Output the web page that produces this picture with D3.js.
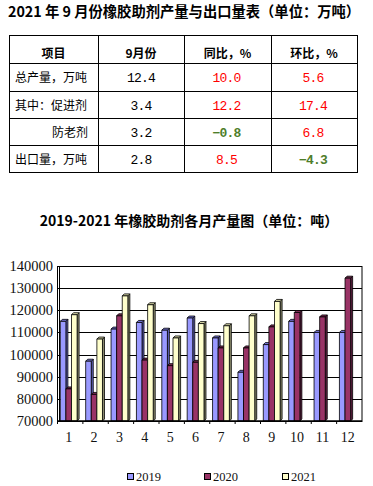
<!DOCTYPE html>
<html><head><meta charset="utf-8">
<script src="https://cdn.jsdelivr.net/npm/d3@7"></script>
<style>html,body{margin:0;padding:0;background:#fff;}svg{display:block;}</style>
</head><body>
<script>
// ---- table data ----
const tableHeader = ["项目", "9月份", "同比，%", "环比，%"];
const rowLabels = ["总产量，万吨", "其中：促进剂", "防老剂", "出口量，万吨"];
const septValues = ["12.4", "3.4", "3.2", "2.8"];
const yoyValues = [10.0, 12.2, -0.8, 8.5];
const momValues = [5.6, 17.4, 6.8, -4.3];

// ---- chart data ----
const months = ["1","2","3","4","5","6","7","8","9","10","11","12"];
const seriesNames = ["2019", "2020", "2021"];
const s2019 = [115000, 97000, 111500, 114500, 111000, 116500, 107500, 92000, 104500, 115000, 110000, 110000];
const s2020 = [84500, 82000, 117500, 97500, 95000, 96500, 103000, 103000, 112500, 119000, 117000, 134500];
const s2021 = [118000, 107000, 126500, 122500, 107500, 114000, 113000, 117500, 124000, null, null, null];
const yTicks = [70000, 80000, 90000, 100000, 110000, 120000, 130000, 140000];

const W = 373, H = 486;
const svg = d3.select("body").append("svg").attr("width", W).attr("height", H);
const cjk = "'Noto Sans CJK SC', 'Noto Sans', sans-serif";
const mono = "'Liberation Mono', 'DejaVu Sans Mono', monospace";
const serif = "'Liberation Serif', 'DejaVu Serif', serif";

// ---- table title ----
svg.append("text").attr("x", 8).attr("y", 17)
  .attr("font-family", cjk).attr("font-weight", "bold").attr("font-size", 14.3)
  .text("2021 年 9 月份橡胶助剂产量与出口量表（单位：万吨）");

// ---- table ----
const colX = [9, 98, 184, 271, 357];
const rowY = [35, 63, 91, 118, 145, 172];
const tg = svg.append("g");
colX.forEach(x => tg.append("line").attr("x1", x + 0.5).attr("x2", x + 0.5).attr("y1", rowY[0]).attr("y2", rowY[5]).attr("stroke", "#000"));
rowY.forEach(y => tg.append("line").attr("x1", colX[0]).attr("x2", colX[4] + 1).attr("y1", y + 0.5).attr("y2", y + 0.5).attr("stroke", "#000"));
const colC = d3.range(4).map(i => (colX[i] + colX[i + 1]) / 2);
tableHeader.forEach((h, i) => {
  tg.append("text").attr("x", colC[i]).attr("y", 58).attr("text-anchor", "middle")
    .attr("font-family", cjk).attr("font-weight", "bold").attr("font-size", 12).text(h);
});
const fmt = d3.format(".1f");
rowLabels.forEach((lab, r) => {
  const y = rowY[r + 1] + 19;
  tg.append("text").attr("x", r === 2 ? 52 : 15).attr("y", y)
    .attr("font-family", cjk).attr("font-size", 12).text(lab);
  tg.append("text").attr("x", colC[1]).attr("y", y).attr("text-anchor", "middle")
    .attr("font-family", mono).attr("font-size", 13).attr("letter-spacing", -0.8).text(septValues[r]);
  [[yoyValues, 2], [momValues, 3]].forEach(([arr, c]) => {
    const v = arr[r];
    tg.append("text").attr("x", colC[c] - 1).attr("y", y).attr("text-anchor", "middle")
      .attr("font-family", mono).attr("font-size", 13).attr("letter-spacing", -0.8)
      .attr("font-weight", v < 0 ? "bold" : "normal")
      .attr("fill", v < 0 ? "#4e7d2a" : "#ff0000").text(fmt(v).replace("-", "−"));
  });
});

// ---- chart title ----
svg.append("text").attr("x", 189).attr("y", 226).attr("text-anchor", "middle")
  .attr("font-family", cjk).attr("font-weight", "bold").attr("font-size", 14)
  .text("2019-2021 年橡胶助剂各月产量图（单位：吨）");

// ---- chart ----
const L = 57.5, R = 362, T = 266, B = 421;
const y = d3.scaleLinear().domain([70000, 140000]).range([B, T]);
const x = d3.scaleBand().domain(months).range([L, R]);
const xs = d3.scaleBand().domain(seriesNames).range([2.8, 2.8 + 16.8]);
const fills = ["#9999ff", "#993366", "#ffffcc"];
const sides = ["#6161b8", "#5e1f40", "#8c8c6e"];
const tops = ["#7777dd", "#7a2852", "#d9d9a8"];
const series = [s2019, s2020, s2021];

const cg = svg.append("g");
// gridlines
yTicks.forEach(t => {
  cg.append("line").attr("x1", L).attr("x2", R).attr("y1", Math.round(y(t)) + 0.5).attr("y2", Math.round(y(t)) + 0.5)
    .attr("stroke", "#000").attr("stroke-width", 1);
});
// frame
cg.append("rect").attr("x", L).attr("y", T + 0.5).attr("width", R - L).attr("height", B - T)
  .attr("fill", "none").attr("stroke", "#000");
cg.append("line").attr("x1", L + 2).attr("x2", L + 2).attr("y1", T).attr("y2", B).attr("stroke", "#000");
// y labels
yTicks.forEach(t => {
  cg.append("text").attr("x", 53).attr("y", y(t) + 5).attr("text-anchor", "end")
    .attr("font-family", serif).attr("font-size", 14.5).attr("fill", "#111").text(t);
});
// bars
const d = 2;
const bw = xs.bandwidth();
months.forEach((m, i) => {
  seriesNames.forEach((s, k) => {
    const v = series[k][i];
    if (v == null) return;
    const x0 = x(m) + xs(s), y0 = y(v), x1 = x0 + bw;
    const g = cg.append("g").attr("stroke", "#000").attr("stroke-width", 0.8).attr("stroke-linejoin", "round");
    g.append("polygon").attr("points", [[x1, y0], [x1 + d, y0 - d], [x1 + d, B - d], [x1, B]].join(" ")).attr("fill", sides[k]);
    g.append("polygon").attr("points", [[x0, y0], [x0 + d, y0 - d], [x1 + d, y0 - d], [x1, y0]].join(" ")).attr("fill", tops[k]);
    g.append("rect").attr("x", x0).attr("y", y0).attr("width", bw).attr("height", B - y0).attr("fill", fills[k]);
  });
});
// bottom axis line + ticks
cg.append("line").attr("x1", L).attr("x2", R).attr("y1", B).attr("y2", B).attr("stroke", "#000").attr("stroke-width", 1.5);
months.forEach(m => {
  cg.append("line").attr("x1", x(m)).attr("x2", x(m)).attr("y1", B).attr("y2", B + 3).attr("stroke", "#000");
  cg.append("text").attr("x", x(m) + 11.2).attr("y", 442).attr("text-anchor", "middle")
    .attr("font-family", serif).attr("font-size", 14).attr("fill", "#111").text(m);
});

// legend
const legX = [127, 204, 282];
seriesNames.forEach((s, k) => {
  svg.append("rect").attr("x", legX[k] + 0.5).attr("y", 473.5).attr("width", 6).attr("height", 6)
    .attr("fill", fills[k]).attr("stroke", "#000");
  svg.append("text").attr("x", legX[k] + 9).attr("y", 480.5)
    .attr("font-family", serif).attr("font-size", 12.5).attr("fill", "#111").text(s);
});
</script>
</body></html>
